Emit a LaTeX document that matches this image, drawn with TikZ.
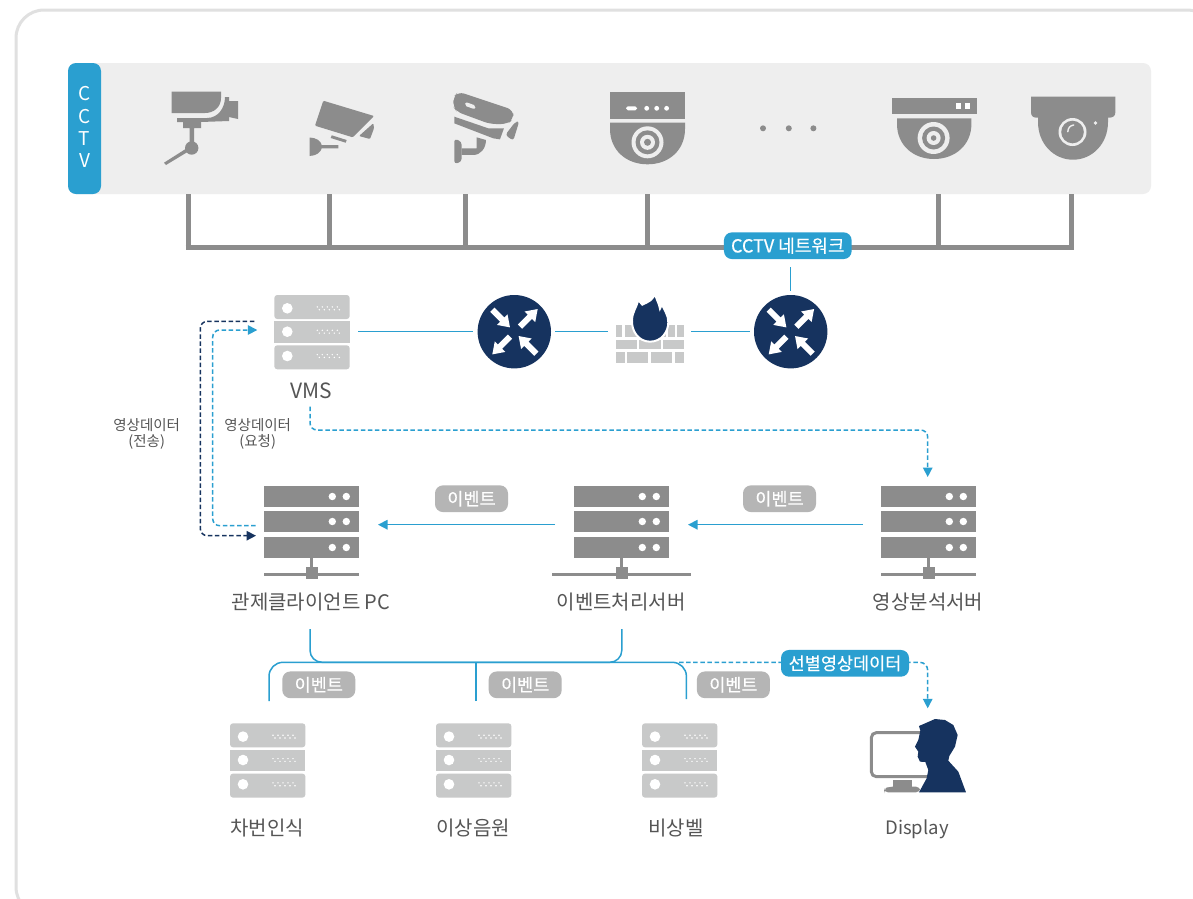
\documentclass[tikz,border=0pt]{standalone}
\usepackage{fontspec}
\setmainfont{Noto Sans CJK KR}
\newfontfamily\pillfont[FakeBold=0.35]{Noto Sans CJK KR}
\usetikzlibrary{arrows.meta}
\definecolor{greyicon}{HTML}{8C8C8C}
\definecolor{palesrv}{HTML}{C8C9C9}
\definecolor{navy}{HTML}{16335F}
\definecolor{cyanb}{HTML}{2A9FD0}
\definecolor{panel}{HTML}{EEEEEE}
\definecolor{pillgrey}{HTML}{B5B5B5}
\definecolor{txt}{HTML}{555555}
\definecolor{frame}{HTML}{E0E0E0}
\newcommand{\fs}[1]{\fontsize{#1}{#1}\selectfont}
\tikzset{
  lightsrv/.pic={
    \fill[palesrv,rounded corners=3] (0,0) rectangle (75.4,24);
    \fill[palesrv] (0,26.3) rectangle (75.4,47.7);
    \fill[palesrv,rounded corners=3] (0,50.3) rectangle (75.4,74.3);
    \foreach \yy in {13.3,36.7,61}{
      \fill[white] (13,\yy) circle (5.3);
      \foreach \xx in {43,48,53,58,63}{
        \fill[white] (\xx,\yy-1.4) circle (0.8);
        \fill[white] (\xx+2,\yy+1.4) circle (0.8);
      }
    }
  },
  darksrv/.pic={
    \foreach \yy/\hh in {0/21,25/21,51/21}{
      \fill[greyicon] (-47.5,\yy) rectangle (47.5,\yy+\hh);
      \fill[white] (20.8,\yy+10.5) circle (3.7);
      \fill[white] (34.8,\yy+10.5) circle (3.7);
    }
    \fill[greyicon] (-1.7,72) rectangle (1.7,82);
    \fill[greyicon] (-#1,87) rectangle (#1,90);
    \fill[greyicon] (-6,81) rectangle (6,93);
  },
  routerpic/.pic={
    \fill[navy] (0,0) circle (36.7);
    \foreach \sx/\sy/\rr in {5.7/-5/45,-22/-22/-45,-4.3/5/225,22/22/135}{
      \fill[white,shift={(\sx,\sy)},rotate=\rr]
        (0,-3) -- (14,-3) -- (14,-7.5) -- (25,0) -- (14,7.5) -- (14,3) -- (0,3) -- cycle;
    }
  },
  anchorbox/.style={inner sep=0,draw=none,minimum width=#1},
  lbl/.style={inner sep=0,outer sep=0,text=txt,font=\fs{20}},
  smalllbl/.style={inner sep=0,text=txt,font=\fs{14.5},align=center},
  pill/.style={inner sep=0,rounded corners=8,fill=#1,text=white,font=\pillfont\fs{17.5},minimum height=26.7,minimum width=73},
  cyanline/.style={draw=cyanb,line width=1.5},
  cyandash/.style={draw=cyanb,line width=1.5,dash pattern=on 4.5 off 2.6},
  navydash/.style={draw=navy,line width=1.5,dash pattern=on 4.5 off 2.6},
  tipc/.style={-{Triangle[length=9.5,width=9.5,fill=cyanb]}},
  tipn/.style={-{Triangle[length=9.5,width=9.5,fill=navy]}},
  netline/.style={draw=greyicon,line width=5}
}
\begin{document}
\begin{tikzpicture}[x=1pt,y=-1pt]
\useasboundingbox (0,0) rectangle (1193,898);
\clip (0,0) rectangle (1193,898);
\fill[white] (0,0) rectangle (1193,898);
\draw[frame,line width=3,rounded corners=28] (16,10) rectangle (1215,915);

% CCTV panel
\fill[panel,rounded corners=8] (68,63) rectangle (1151,194);
\node[fill=cyanb,rounded corners=8,minimum width=33,minimum height=131,inner sep=0] (tab) at (84.5,128.5) {};
\node[inner sep=0,text=white,font=\fs{19}] (c1) at (84.5,94) {C};
\node[inner sep=0,text=white,font=\fs{19}] (c2) at (84.5,117) {C};
\node[inner sep=0,text=white,font=\fs{19}] (c3) at (84.5,139) {T};
\node[inner sep=0,text=white,font=\fs{19}] (c4) at (84.5,161) {V};

% camera 1
\fill[greyicon] (171.7,91.7) -- (221,91.7) -- (221,98) .. controls (221,107) and (214,113) .. (205,113) -- (171.7,113) -- cycle;
\fill[greyicon] (177,118) -- (207,118) .. controls (218,118) and (225,108) .. (225,97) -- (229,97) -- (229,101) -- (238,101) -- (238,119) -- (229,117) -- (229,121) -- (201,122) -- (201,128) -- (194,128) -- (194,145) -- (189.5,145) -- (189.5,128) -- (183,128) -- (183,122) -- (177,122) -- cycle;
\fill[greyicon] (191.7,148) circle (6.7);
\fill[greyicon] (164,162.7) -- (166,165) -- (188,151.7) -- (186.7,148.3) -- cycle;

% camera 2
\fill[greyicon,rounded corners=1] (323.3,100.7) -- (374,116) -- (352.7,137.3) -- (315,125.7) -- cycle;
\fill[greyicon,rounded corners=1] (359,136) -- (373.3,123.3) -- (374,128.3) -- (370,139) -- cycle;
\fill[greyicon] (331.7,135.3) -- (346.7,140) -- (345.7,142.7) -- (330.7,138) -- cycle;
\fill[greyicon] (309.5,137.5) .. controls (316,137.5) and (321,141) .. (321.7,145) -- (338.3,145) -- (338.3,148.3) -- (321.7,148.3) .. controls (321,152) and (316,156) .. (309.5,156) -- cycle;

% camera 3
\begin{scope}[shift={(60,60)},x=0.3333pt,y=-0.3333pt]
  \fill[greyicon,rounded corners=6] (1195,95) -- (1360,150) -- (1360,178) -- (1342,192) -- (1290,192) -- (1190,155) -- (1180,140) -- (1180,112) -- cycle;
  \fill[panel,rounded corners=2] (1217,126) -- (1248,137) -- (1245,148) -- (1214,137) -- cycle;
  \fill[greyicon] (1183,170) -- (1285,205) -- (1332,205) -- (1320,238) -- (1300,235) -- (1183,190) -- cycle;
  \fill[greyicon,rounded corners=3] (1336,225) -- (1365,187) -- (1378,183) -- (1360,242) -- cycle;
  \fill[greyicon,rounded corners=3] (1183,236) -- (1205,245) -- (1205,305) -- (1183,312) -- cycle;
  \fill[greyicon] (1205,265) -- (1250,265) -- (1250,232) -- (1278,240) .. controls (1278,265) and (1262,285) .. (1240,285) -- (1205,285) -- cycle;
\end{scope}

% dome 4
\fill[greyicon] (610,92.3) rectangle (685,119);
\fill[white,rounded corners=1.8] (626,106.3) rectangle (637,110.3);
\foreach \xx in {646.7,656.7,666.6}{\fill[white] (\xx,108.3) circle (2.4);}
\fill[greyicon] (610,122.7) -- (685,122.7) -- (685,129) .. controls (685,150) and (669,164.3) .. (647.5,164.3) .. controls (626,164.3) and (610,150) .. (610,129) -- cycle;
\fill[panel] (647.5,142.3) circle (16);
\fill[greyicon] (647.5,142.3) circle (12);
\fill[panel] (647.5,142.3) circle (7.5);
\fill[greyicon] (647.5,142.3) circle (3.5);

% dots
\foreach \xx in {763,788.8,813.4}{\fill[greyicon] (\xx,128.3) circle (3);}

% dome 5
\fill[greyicon] (892,97.7) rectangle (976.5,113.7);
\fill[white] (956,103.3) rectangle (960.6,108.7);
\fill[white] (964.6,103.3) rectangle (969.8,108.7);
\fill[greyicon] (897,118.3) -- (971.4,118.3) -- (971.4,124) .. controls (971.4,145) and (955,159) .. (934,159) .. controls (913,159) and (897,145) .. (897,124) -- cycle;
\fill[panel] (933.6,138) circle (16);
\fill[greyicon] (933.6,138) circle (11.5);
\fill[panel] (933.6,138) circle (7);
\fill[greyicon] (933.6,138) circle (2.8);

% dome 6
\fill[greyicon] (1031,96.7) -- (1115.4,96.7) -- (1115.4,112) .. controls (1115.4,116) and (1113,117.7) .. (1109,117.7) -- (1037,117.7) .. controls (1033,117.7) and (1031,116) .. (1031,112) -- cycle;
\fill[greyicon] (1038,112) -- (1108,112) -- (1108,122) .. controls (1108,144) and (1092,159.7) .. (1073,159.7) .. controls (1054,159.7) and (1038,144) .. (1038,122) -- cycle;
\fill[panel] (1072.5,132) circle (14);
\fill[greyicon] (1072.5,132) circle (11.3);
\draw[panel,line width=1.4,line cap=round] (1067.8,131.7) .. controls (1068,128) and (1070,125.5) .. (1073.7,125);
\fill[panel] (1095.5,123) circle (1.8);

% network lines
\coordinate (busL) at (185.5,247);
\coordinate (busR) at (1073.5,247);
\draw[netline] (busL) -- (busR);
\foreach \xx in {188,329,465.3,647,938,1071}{\draw[netline] (\xx,194) -- (\xx,247);}
\node[pill=cyanb,minimum width=127.7,font=\pillfont\fs{18},outer sep=7.5] (net) at (787.8,245.7) {CCTV 네트워크};

% VMS row
\pic at (274.3,295) {lightsrv};
\node[anchorbox=75.4,minimum height=74.3,outer sep=8.3] (vms) at (312,331.7) {};
\pic at (514.3,331.7) {routerpic};
\pic at (790.7,331.7) {routerpic};
\node[circle,anchorbox=73.4,outer sep=4.3] (r1) at (514.3,331.7) {};
\node[circle,anchorbox=73.4,outer sep=4.3] (r2) at (790.7,331.7) {};
\node[anchorbox=82.7,minimum height=70] (fw) at (649.7,331.7) {};

% firewall
\begin{scope}[shift={(460,280)},x=0.3333pt,y=-0.3333pt]
  \foreach \a/\b in {467/487,495/560,568/618,625/645,652/672}{\fill[palesrv] (\a,135) rectangle (\b,172);}
  \foreach \a/\b in {467/530,538/602,610/672}{\fill[palesrv] (\a,180) rectangle (\b,208);}
  \foreach \a/\b in {467/495,502/565,573/637,645/672}{\fill[palesrv] (\a,215) rectangle (\b,250);}
  \filldraw[fill=navy,draw=white,line width=2] (570,185) .. controls (535,185) and (514,152) .. (516,120) .. controls (517,95) and (530,82) .. (535,60) -- (547,74) .. controls (565,65) and (582,60) .. (585,36) .. controls (588,60) and (598,70) .. (600,86) -- (606,73) .. controls (615,95) and (625,105) .. (625,127) .. controls (625,155) and (605,185) .. (570,185) -- cycle;
\end{scope}

\draw[cyanline] (vms.east) -- (r1.west);
\draw[cyanline] (r1.east) -- (fw.west);
\draw[cyanline] (fw.east) -- (r2.west);
\draw[cyanline] (r2.north) -- (r2.north |- net.south);

\node[lbl,font=\fs{21}] (vmslbl) at (311,391) {VMS};
\node[smalllbl] (sendlbl) at (146.7,434) {영상데이터\\[1pt](전송)};
\node[smalllbl] (reqlbl) at (257.7,434) {영상데이터\\[1pt](요청)};

% dark servers
\pic at (311.5,486) {darksrv=47.5};
\pic at (621.5,486) {darksrv=69.5};
\pic at (928.5,486) {darksrv=47.5};
\node[anchorbox=95,minimum height=70,outer sep=19] (pc) at (311.5,524.7) {};
\node[anchorbox=95,minimum height=70,outer sep=19] (evs) at (621.5,524.7) {};
\node[anchorbox=95,minimum height=70,outer sep=18.5] (ana) at (928.5,524.7) {};
\draw[cyanline,tipc] (evs.west) -- (pc.east);
\draw[cyanline,tipc] (ana.west) -- (evs.east);
\node[pill=pillgrey] (p1) at (471.5,498.7) {이벤트};
\node[pill=pillgrey] (p2) at (779.5,498.7) {이벤트};

\node[lbl] (pclbl) at (311,602) {관제클라이언트 PC};
\node[lbl] (evlbl) at (621,602) {이벤트처리서버};
\node[lbl] (analbl) at (928,602) {영상분석서버};

% dashed loops
\coordinate (vmsA) at (254.3,321.3);
\coordinate (pcA) at (256,535.7);
\coordinate (pcB) at (255.7,525.7);
\coordinate (vmsB) at (257.3,330);
\coordinate (anaIn) at (927.7,477);
\coordinate (vmsOut) at (310,406.7);
\draw[navydash,tipn,rounded corners=7] (vmsA) -- (200.3,321.3) -- (200.3,535.7) -- (pcA);
\draw[cyandash,tipc,rounded corners=7] (pcB) -- (212.7,525.7) -- (212.7,330) -- (vmsB);
\draw[cyandash,tipc,rounded corners=7] (vmsOut) -- (310,430) -- (927.7,430) -- (anaIn);

% lower bus
\coordinate (pcOut) at (310,629);
\coordinate (evOut) at (621.8,629);
\coordinate (carTop) at (269,701);
\coordinate (sndTop) at (476,701);
\coordinate (belTop) at (686.4,699);
\coordinate (busJ) at (476,662.3);
\coordinate (dashS) at (679,662.3);
\coordinate (dispIn) at (927.7,708.3);
\draw[cyandash,tipc,rounded corners=8] (dashS) -- (927.7,662.3) -- (dispIn);
\draw[cyanline,rounded corners=12] (pcOut) -- (310,662.3) -- (621.8,662.3) -- (evOut);
\draw[cyanline,rounded corners=14] (carTop) -- (269,662.3) -- (686.4,662.3) -- (belTop);
\draw[cyanline] (sndTop) -- (busJ);
\node[pill=cyanb,minimum width=128] (sel) at (845,663.3) {선별영상데이터};
\node[pill=pillgrey] (p3) at (318.8,684.8) {이벤트};
\node[pill=pillgrey] (p4) at (525.2,684.8) {이벤트};
\node[pill=pillgrey] (p5) at (733.4,684.8) {이벤트};

% lower servers
\pic at (230,723.3) {lightsrv};
\pic at (436,723.3) {lightsrv};
\pic at (642,723.3) {lightsrv};
\node[lbl] (carlbl) at (267,828) {차번인식};
\node[lbl] (sndlbl) at (473,828) {이상음원};
\node[lbl] (bellbl) at (676,828) {비상벨};
\node[lbl,font=\fs{18.5}] (displbl) at (917,829) {Display};

% display + person
\begin{scope}[shift={(780,640)},x=0.3333pt,y=-0.3333pt]
  \draw[greyicon,line width=3,rounded corners=5] (440,278) -- (274,278) -- (274,410) -- (450,410);
  \fill[greyicon] (340,420) rectangle (395,442);
  \fill[greyicon,rounded corners=4] (312,457) -- (312,448) -- (325,440) -- (420,440) -- (420,457) -- cycle;
  \fill[navy] (417,457) -- (440,415) -- (445,390) -- (436,366) -- (420,365) -- (413,350) -- (415,335) -- (405,320) -- (415,300) -- (421,272) -- (417,258) -- (440,248) -- (465,237) -- (495,240) -- (520,255) -- (533,285) -- (525,320) -- (508,348) -- (505,362) -- (535,395) -- (558,457) -- cycle;
\end{scope}
\end{tikzpicture}
\end{document}
